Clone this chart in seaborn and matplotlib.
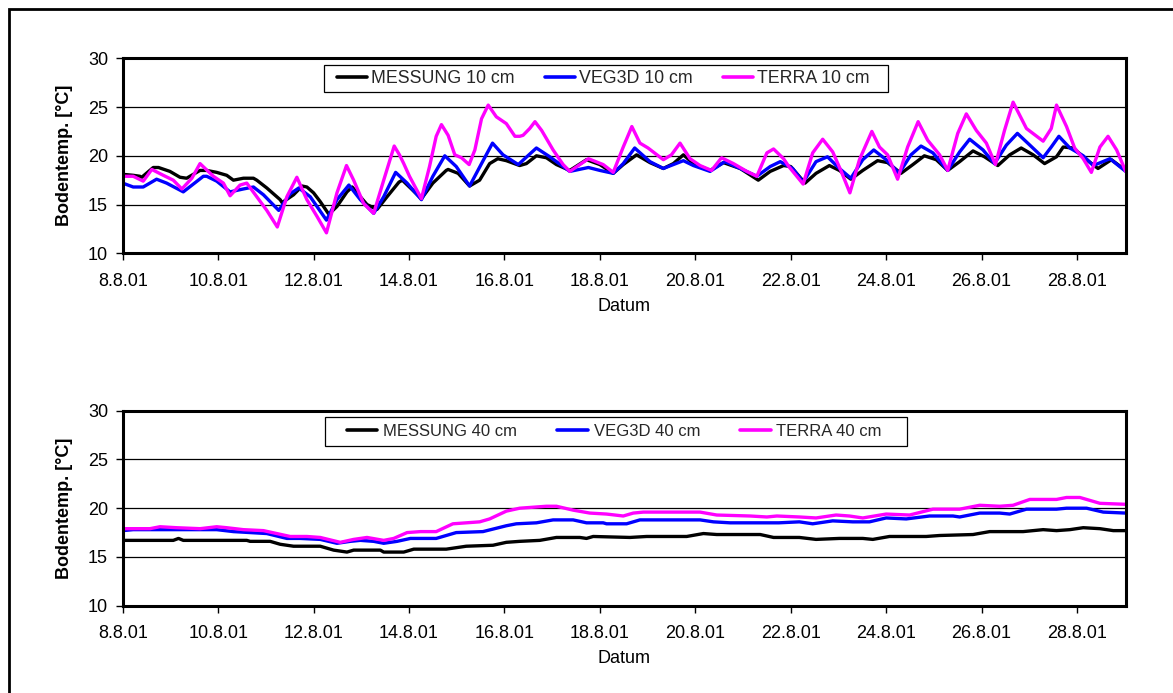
import matplotlib
matplotlib.use("Agg")
import matplotlib.pyplot as plt
import pandas as pd
import seaborn as sns
from matplotlib.patches import Rectangle

# ---------------- data (time in days after 8.8.01 00:00, temperature in degC) ----------------
tick_days = [0, 2, 4, 6, 8, 10, 12, 14, 16, 18, 20]
tick_labels = ["8.8.01", "10.8.01", "12.8.01", "14.8.01", "16.8.01", "18.8.01",
               "20.8.01", "22.8.01", "24.8.01", "26.8.01", "28.8.01"]

# --- 10 cm ---
mess10_t = [0.00, 0.22, 0.36, 0.40, 0.64, 0.75, 0.99, 1.20, 1.34, 1.62, 1.76, 1.97, 2.18, 2.32,
            2.53, 2.74, 2.81, 3.02, 3.30, 3.34, 3.58, 3.76, 3.86, 4.00, 4.14, 4.32, 4.49, 4.70,
            4.81, 4.98, 5.12, 5.33, 5.54, 5.79, 5.86, 6.03, 6.26, 6.50, 6.78, 6.82, 7.03, 7.27,
            7.48, 7.69, 7.86, 8.04, 8.32, 8.46, 8.67, 8.88, 9.09, 9.37, 9.72, 10.00, 10.28, 10.49,
            10.77, 11.05, 11.33, 11.54, 11.75, 11.96, 12.31, 12.59, 12.94, 13.32, 13.57, 13.85,
            14.00, 14.30, 14.53, 14.81, 15.02, 15.26, 15.51, 15.82, 16.03, 16.31, 16.56, 16.80,
            17.05, 17.29, 17.54, 17.82, 18.06, 18.34, 18.59, 18.83, 19.08, 19.32, 19.57, 19.71,
            19.92, 20.20, 20.44, 20.72, 21.02]
mess10_v = [18.1, 18.0, 17.9, 17.8, 18.8, 18.8, 18.4, 17.8, 17.7, 18.5, 18.5, 18.3, 18.0, 17.5,
            17.7, 17.7, 17.5, 16.7, 15.5, 15.2, 16.0, 16.9, 16.8, 16.2, 15.3, 14.0, 14.8, 16.3,
            16.8, 15.8, 15.0, 14.5, 15.8, 17.3, 17.5, 16.7, 15.6, 17.2, 18.5, 18.6, 18.2, 16.9,
            17.5, 19.2, 19.7, 19.5, 19.0, 19.2, 20.0, 19.8, 19.1, 18.5, 19.6, 19.1, 18.2, 19.1,
            20.1, 19.3, 18.7, 19.2, 20.1, 19.2, 18.5, 19.3, 18.7, 17.5, 18.4, 19.0,
            18.9, 17.2, 18.2, 19.0, 18.5, 17.6, 18.5, 19.5, 19.3, 18.2, 19.1, 20.0,
            19.6, 18.5, 19.4, 20.5, 19.9, 19.0, 20.1, 20.8, 20.1, 19.2, 19.9, 20.9,
            20.8, 19.6, 18.7, 19.6, 18.5]

veg10_t = [0.00, 0.22, 0.43, 0.71, 0.92, 1.27, 1.69, 1.76, 1.97, 2.25, 2.53, 2.74, 2.95, 3.27,
           3.51, 3.69, 3.93, 4.27, 4.49, 4.74, 4.98, 5.26, 5.47, 5.72, 5.96, 6.26, 6.50, 6.75,
           6.99, 7.27, 7.52, 7.75, 7.97, 8.29, 8.67, 8.95, 9.37, 9.76, 10.00, 10.28, 10.49, 10.73,
           11.05, 11.33, 11.54, 11.75, 11.96, 12.31, 12.62, 12.94, 13.29, 13.57, 13.78, 14.04,
           14.26, 14.53, 14.77, 15.02, 15.26, 15.51, 15.74, 16.00, 16.27, 16.52, 16.73, 16.98,
           17.29, 17.54, 17.75, 18.03, 18.27, 18.52, 18.75, 19.01, 19.29, 19.46, 19.62, 19.85,
           20.13, 20.34, 20.69, 21.02]
veg10_v = [17.2, 16.8, 16.8, 17.6, 17.2, 16.3, 17.9, 17.9, 17.4, 16.3, 16.6, 16.8, 16.0, 14.4,
           16.1, 16.7, 15.8, 13.4, 15.5, 17.0, 15.5, 14.1, 15.8, 18.3, 17.2, 15.5, 17.9, 20.0,
           18.9, 16.9, 19.2, 21.3, 20.1, 19.1, 20.8, 19.9, 18.4, 18.8, 18.5, 18.2, 19.2, 20.8,
           19.4, 18.7, 19.1, 19.5, 19.0, 18.4, 19.4, 18.7, 17.9, 18.9, 19.4, 18.7,
           17.3, 19.4, 19.9, 18.7, 17.7, 19.6, 20.6, 19.6, 18.2, 20.1, 21.0, 20.3,
           18.5, 20.4, 21.7, 20.6, 19.2, 21.1, 22.3, 21.1, 19.8, 20.9, 22.0, 20.8,
           20.0, 19.0, 19.7, 18.4]

terra10_t = [0.00, 0.22, 0.43, 0.61, 0.85, 1.06, 1.24, 1.45, 1.62, 1.90, 2.11, 2.25, 2.46, 2.60,
             2.81, 3.02, 3.24, 3.44, 3.65, 3.86, 4.07, 4.27, 4.49, 4.69, 4.84, 5.05, 5.26, 5.47,
             5.69, 5.80, 5.89, 6.01, 6.26, 6.43, 6.57, 6.68, 6.82, 6.96, 7.10, 7.26, 7.38, 7.52,
             7.66, 7.83, 8.04, 8.22, 8.32, 8.39, 8.53, 8.64, 8.78, 9.02, 9.23, 9.37, 9.58, 9.76,
             10.07, 10.28, 10.49, 10.67, 10.84, 11.01, 11.33, 11.50, 11.68, 11.89, 12.10, 12.34,
             12.55, 12.80, 13.08, 13.29, 13.50, 13.64, 13.85, 13.96, 14.26, 14.46, 14.67, 14.88,
             15.05, 15.24, 15.44, 15.70, 15.86, 16.03, 16.24, 16.45, 16.67, 16.87, 17.12, 17.29,
             17.50, 17.68, 17.89, 18.10, 18.29, 18.48, 18.66, 18.94, 19.29, 19.46, 19.57, 19.78,
             19.95, 20.13, 20.30, 20.48, 20.65, 20.83, 21.02]
terra10_v = [17.9, 17.9, 17.4, 18.6, 18.0, 17.5, 16.6, 17.7, 19.2, 17.9, 17.2, 15.9, 17.0, 17.2,
             15.8, 14.4, 12.7, 15.8, 17.8, 15.5, 13.8, 12.1, 16.2, 19.0, 17.5, 15.1, 14.1, 17.5,
             21.0, 20.1, 19.2, 17.9, 15.6, 18.9, 22.0, 23.2, 22.1, 20.1, 19.8, 19.1, 20.6, 23.8,
             25.2, 24.0, 23.3, 22.0, 22.0, 22.1, 22.8, 23.5, 22.6, 20.6, 19.1, 18.4, 19.1, 19.7,
             19.1, 18.3, 20.9, 23.0, 21.3, 20.8, 19.6, 20.1, 21.3, 19.7, 19.0, 18.5,
             19.8, 19.2, 18.4, 17.9, 20.3, 20.7, 19.7, 18.9, 17.1, 20.3, 21.7, 20.4,
             18.5, 16.2, 19.6, 22.5, 20.9, 20.1, 17.6, 20.9, 23.5, 21.6, 20.1, 18.5,
             22.3, 24.3, 22.6, 21.3, 19.1, 22.6, 25.5, 22.8, 21.5, 22.8, 25.2, 23.0,
             20.8, 19.7, 18.3, 20.9, 22.0, 20.6, 18.4]

# --- 40 cm ---
mess40_t = [0.00, 1.06, 1.17, 1.27, 2.60, 2.67, 3.09, 3.30, 3.58, 4.14, 4.42, 4.70, 4.84, 5.40,
            5.47, 5.89, 6.10, 6.78, 7.20, 7.76, 8.04, 8.32, 8.74, 9.09, 9.58, 9.72, 9.86, 10.63,
            10.98, 11.82, 12.17, 12.45, 13.36, 13.64, 14.18, 14.53, 15.02, 15.51, 15.72, 16.07,
            16.84, 17.12, 17.82, 18.17, 18.87, 19.29, 19.57, 19.85, 20.13, 20.48, 20.76, 21.02]
mess40_v = [16.7, 16.7, 16.9, 16.7, 16.7, 16.6, 16.6, 16.3, 16.1, 16.1, 15.7, 15.5, 15.7, 15.7,
            15.5, 15.5, 15.8, 15.8, 16.1, 16.2, 16.5, 16.6, 16.7, 17.0, 17.0, 16.9, 17.1, 17.0,
            17.1, 17.1, 17.4, 17.3, 17.3, 17.0, 17.0, 16.8, 16.9, 16.9, 16.8, 17.1,
            17.1, 17.2, 17.3, 17.6, 17.6, 17.8, 17.7, 17.8, 18.0, 17.9, 17.7, 17.7]

veg40_t = [0.00, 0.22, 1.27, 1.97, 2.32, 3.02, 3.44, 3.72, 4.14, 4.49, 4.77, 4.98, 5.26, 5.47,
           5.75, 6.03, 6.57, 6.99, 7.55, 8.04, 8.25, 8.67, 9.02, 9.44, 9.72, 10.07, 10.14, 10.56,
           10.84, 12.10, 12.38, 12.73, 13.15, 13.75, 14.18, 14.46, 14.88, 15.30, 15.65, 16.00,
           16.42, 16.91, 17.40, 17.54, 17.96, 18.38, 18.59, 18.94, 19.57, 19.78, 20.20, 20.55,
           21.02]
veg40_v = [17.7, 17.8, 17.8, 17.8, 17.6, 17.4, 16.9, 16.9, 16.8, 16.4, 16.6, 16.7, 16.6, 16.4,
           16.6, 16.9, 16.9, 17.5, 17.6, 18.2, 18.4, 18.5, 18.8, 18.8, 18.5, 18.5, 18.4, 18.4,
           18.8, 18.8, 18.6, 18.5, 18.5, 18.5, 18.6, 18.4, 18.7, 18.6, 18.6, 19.0,
           18.9, 19.2, 19.2, 19.1, 19.5, 19.5, 19.4, 19.9, 19.9, 20.0, 20.0, 19.6,
           19.5]

terra40_t = [0.00, 0.57, 0.78, 1.13, 1.62, 1.97, 2.18, 2.53, 2.95, 3.23, 3.51, 3.86, 4.14, 4.56,
             4.84, 5.12, 5.47, 5.68, 5.96, 6.24, 6.57, 6.92, 7.48, 7.69, 8.04, 8.32, 8.60, 8.88,
             9.09, 9.44, 9.79, 10.14, 10.49, 10.70, 10.91, 12.10, 12.45, 13.15, 13.50, 13.71,
             14.18, 14.53, 14.95, 15.23, 15.51, 16.00, 16.49, 16.98, 17.54, 17.96, 18.38, 18.66,
             19.01, 19.57, 19.78, 20.06, 20.48, 21.02]
terra40_v = [17.9, 17.9, 18.1, 18.0, 17.9, 18.1, 18.0, 17.8, 17.7, 17.4, 17.1, 17.1, 17.0, 16.5,
             16.8, 17.0, 16.7, 16.9, 17.5, 17.6, 17.6, 18.4, 18.6, 18.9, 19.7, 20.0, 20.1, 20.2,
             20.2, 19.8, 19.5, 19.4, 19.2, 19.5, 19.6, 19.6, 19.3, 19.2, 19.1, 19.2,
             19.1, 19.0, 19.3, 19.2, 19.0, 19.4, 19.3, 19.9, 19.9, 20.3, 20.2, 20.3,
             20.9, 20.9, 21.1, 21.1, 20.5, 20.4]

names10 = ["MESSUNG 10 cm", "VEG3D 10 cm", "TERRA 10 cm"]
names40 = ["MESSUNG 40 cm", "VEG3D 40 cm", "TERRA 40 cm"]
colors = ["#000000", "#0000FF", "#FF00FF"]

# ---------------- styling ----------------
sns.set_theme(style="white")
plt.rcParams['font.family'] = ['Liberation Sans', 'DejaVu Sans']

W, H = 1173, 693
fig = plt.figure(figsize=(W / 100, H / 100), dpi=100)
fig.patch.set_facecolor("white")

ax_left = 122.7 / W
ax_w = (1125.7 - 122.7) / W
ax_h = 195.0 / H
ax1 = fig.add_axes([ax_left, 1 - 253.3 / H, ax_w, ax_h])
ax2 = fig.add_axes([ax_left, 1 - 605.7 / H, ax_w, ax_h])

# outer frame (only left/top edges fall inside the image)
fig.patches.append(Rectangle((8.5 / W, -0.2), 1.5, 1.2 - 8.5 / H, transform=fig.transFigure,
                             fill=False, edgecolor="black", linewidth=2.0, zorder=0))


def px_rect(x0, y0, x1, y1):
    """legend frame given in pixel coordinates from the top-left corner"""
    return Rectangle((x0 / W, 1 - y1 / H), (x1 - x0) / W, (y1 - y0) / H,
                     transform=fig.transFigure, fill=True, facecolor="white",
                     edgecolor="black", linewidth=0.9, zorder=5)


def draw_panel(ax, series, names, box, content_left, leg_fs, hlen, htpad, colspace):
    frames = []
    for name, (t, v) in zip(names, series):
        frames.append(pd.DataFrame({"Tag": t, "Temp": v, "Serie": name}))
    df = pd.concat(frames, ignore_index=True)
    sns.lineplot(data=df, x="Tag", y="Temp", hue="Serie", hue_order=names,
                 palette=colors, estimator=None, sort=True, linewidth=2.4, ax=ax,
                 legend=True, solid_joinstyle="round", solid_capstyle="round")
    ax.set_xlim(0, 21.02)
    ax.set_ylim(10, 30)
    ax.set_yticks([10, 15, 20, 25, 30])
    ax.set_xticks(tick_days)
    ax.set_xticklabels(tick_labels)
    ax.yaxis.grid(True, color="black", linewidth=0.9)
    ax.xaxis.grid(False)
    ax.set_axisbelow(True)
    for sp in ax.spines.values():
        sp.set_visible(True)
        sp.set_color("black")
        sp.set_linewidth(2.2)
    ax.tick_params(axis="both", which="major", direction="out", length=5, width=1,
                   color="black", labelcolor="black", labelsize=13,
                   bottom=True, left=True, top=False, right=False)
    ax.tick_params(axis="x", pad=9.0)
    ax.tick_params(axis="y", pad=5.5)
    ax.set_xlabel("Datum", fontsize=13, color="black")
    ax.xaxis.set_label_coords(0.5, -0.273)
    ax.xaxis.label.set_va("center")
    ax.set_ylabel("Bodentemp. [°C]", fontsize=13, fontweight="bold", color="black")
    ax.yaxis.set_label_coords(-0.0585, 0.5)
    ax.yaxis.label.set_va("center")

    handles, labels = ax.get_legend_handles_labels()
    ax.get_legend().remove()
    x0, y0, x1, y1 = box
    fig.patches.append(px_rect(x0, y0, x1, y1))
    leg = fig.legend(handles, labels, ncol=3, loc="center left",
                     bbox_to_anchor=(content_left / W, 1 - (y0 + y1) / 2 / H),
                     frameon=False, fontsize=leg_fs, handlelength=hlen,
                     handletextpad=htpad, columnspacing=colspace, borderpad=0,
                     borderaxespad=0)
    leg.set_zorder(6)
    for ln in leg.get_lines():
        ln.set_linewidth(2.6)


draw_panel(ax1, [(mess10_t, mess10_v), (veg10_t, veg10_v), (terra10_t, terra10_v)], names10,
           (323.7, 65.0, 887.7, 91.7), 336.5, 12.8, 1.71, 0.22, 1.7)
draw_panel(ax2, [(mess40_t, mess40_v), (veg40_t, veg40_v), (terra40_t, terra40_v)], names40,
           (325.4, 417.3, 907.0, 446.0), 346.5, 12.0, 1.83, 0.36, 2.4)

fig.savefig("out.png", dpi=100)
